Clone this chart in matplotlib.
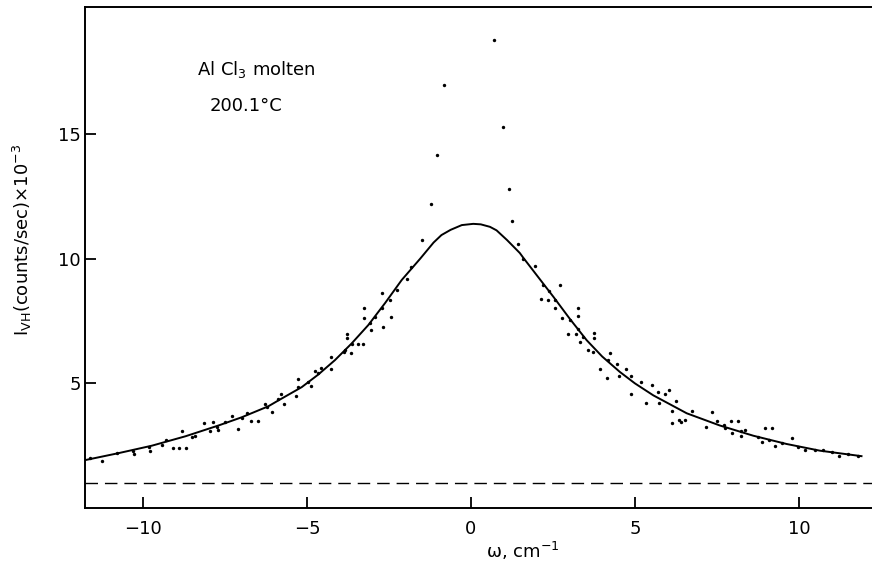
import matplotlib
matplotlib.use("Agg")
import matplotlib.pyplot as plt

# measured points (omega in cm^-1, intensity in counts/sec x 10^-3)
pts_w = [-11.62, -11.24, -10.78, -10.30, -10.27, -9.81, -9.79, -9.30, -9.41, -9.08,
         -8.89, -8.70, -8.82, -8.50, -8.13, -7.88, -7.96, -7.70, -7.50, -7.30,
         -7.09, -6.84, -6.71, -6.48, -6.28, -6.08, -5.79, -5.69, -5.34, -5.27,
         -5.28, -4.88, -4.76, -4.58, -4.27, -4.27, -3.87, -3.66, -3.77, -3.77,
         -3.45, -3.28, -3.25, -3.25, -3.08, -3.05, -2.72, -2.67, -2.44, -2.47,
         -2.27, -1.96, -1.83, -1.48, -1.23, -8.41, -7.75, -6.99, -6.23, -5.88,
         -4.97, -4.66, -3.84, -3.64, -2.93, -2.72,
         -0.81, -1.04, 0.69, 0.97, 1.16,
         1.24, 1.42, 1.60, 1.95, 2.19, 2.39, 2.71, 2.13, 2.36, 2.56,
         2.56, 2.77, 3.02, 3.25, 3.27, 3.25, 2.97, 3.20, 3.32, 3.42,
         3.75, 3.75, 3.58, 3.73, 3.93, 4.14, 4.24, 4.19, 4.44, 4.51,
         4.72, 4.88, 4.88, 5.20, 5.33, 5.51, 5.71, 5.73, 5.91, 6.05,
         6.24, 6.14, 6.14, 6.34, 6.42, 6.52, 6.73, 7.16, 7.34, 7.49,
         7.71, 7.74, 7.93, 8.13, 7.95, 8.22, 8.25, 8.35, 8.76, 8.88,
         8.96, 9.17, 9.09, 9.27, 9.50, 9.78, 9.98, 10.18, 10.49, 10.74,
         11.00, 11.23, 11.50, 11.81]
pts_I = [1.99, 1.87, 2.20, 2.30, 2.16, 2.43, 2.30, 2.73, 2.54, 2.41,
         2.41, 2.41, 3.10, 2.84, 3.41, 3.45, 3.08, 3.13, 3.47, 3.71,
         3.15, 3.80, 3.48, 3.48, 4.18, 3.84, 4.56, 4.18, 4.48, 5.19,
         4.85, 4.88, 5.50, 5.63, 6.04, 5.56, 6.24, 6.22, 6.98, 6.84,
         6.57, 6.57, 8.01, 7.61, 7.41, 7.14, 8.62, 7.27, 7.65, 8.35,
         8.75, 9.18, 9.66, 10.74, 12.20, 2.90, 3.25, 3.60, 4.07, 4.38,
         5.05, 5.42, 6.33, 6.59, 7.67, 8.01,
         16.98, 14.18, 18.76, 15.27, 12.81,
         11.50, 10.59, 10.00, 9.72, 8.95, 8.71, 8.93, 8.37, 8.35, 8.35,
         8.01, 7.63, 7.56, 8.01, 7.71, 7.20, 6.98, 6.98, 6.64, 6.87,
         7.04, 6.83, 6.32, 6.24, 5.59, 5.23, 6.21, 5.95, 5.77, 5.28,
         5.56, 5.28, 4.58, 5.05, 4.21, 4.92, 4.65, 4.21, 4.58, 4.75,
         4.29, 3.88, 3.40, 3.54, 3.47, 3.54, 3.88, 3.25, 3.87, 3.51,
         3.31, 3.20, 3.48, 3.51, 3.00, 2.90, 3.10, 3.13, 2.84, 2.63,
         3.20, 3.20, 2.73, 2.50, 2.61, 2.81, 2.46, 2.33, 2.33, 2.33,
         2.23, 2.10, 2.17, 2.10]

# fitted curve
fit_w = [-11.77, -10.75, -9.73, -8.70, -7.70, -6.99, -6.18, -5.88, -5.16, -4.66,
         -4.15, -3.64, -3.13, -2.62, -2.11, -1.55, -1.14, -0.90, -0.62, -0.28,
         0.07, 0.30, 0.58, 0.78, 1.10, 1.49, 1.59, 2.00, 2.51, 3.02,
         3.53, 4.00, 4.54, 5.00, 5.56, 6.58, 7.59, 8.61, 9.62, 10.64, 11.91]
fit_I = [1.92, 2.20, 2.50, 2.88, 3.31, 3.64, 4.08, 4.31, 4.85, 5.35,
         5.93, 6.60, 7.34, 8.22, 9.15, 10.00, 10.65, 10.95, 11.16, 11.35,
         11.40, 11.38, 11.28, 11.14, 10.75, 10.23, 10.05, 9.35, 8.48, 7.58,
         6.73, 6.08, 5.46, 5.00, 4.52, 3.80, 3.31, 2.90, 2.57, 2.30, 2.08]

baseline_I = 1.0
xticks = [-10, -5, 0, 5, 10]
yticks = [5, 10, 15]

plt.rcParams['font.family'] = ['DejaVu Sans']
fig = plt.figure(figsize=(8.72, 5.71), dpi=100)
ax = fig.add_axes([85/872, 1-508/571, 1-85/872, (508-7)/571])

ax.plot(fit_w, fit_I, color='black', lw=1.4, zorder=3, solid_joinstyle='round')
ax.scatter(pts_w, pts_I, s=6, color='black', zorder=4, linewidths=0)
ax.axhline(baseline_I, color='black', lw=1.0, dashes=(9, 5))

ax.set_xlim(-11.77, 12.23)
ax.set_ylim(0, 20.1)
ax.set_xticks(xticks)
ax.set_xticklabels(['\u221210', '\u22125', '0', '5', '10'])
ax.set_yticks(yticks)
ax.tick_params(direction='in', length=8, width=1.3, labelsize=13)
ax.tick_params(axis='x', pad=9)
ax.tick_params(axis='y', pad=3)
ax.spines['right'].set_visible(False)
for s in ['left', 'top', 'bottom']:
    ax.spines[s].set_linewidth(1.4)

fig.text(523/872, 1-551/571, '\u03c9, cm$^{-1}$', fontsize=13, ha='center', va='center')
fig.text(22/872, 1-240/571, r'I$_{\rm VH}$(counts/sec)$\times$10$^{-3}$', fontsize=13,
         rotation=90, ha='center', va='center')
fig.text(256/872, 1-70/571, r'Al Cl$_3$ molten', fontsize=13, ha='center', va='center')
fig.text(246/872, 1-106/571, '200.1\u00b0C', fontsize=13, ha='center', va='center')

fig.savefig('out.png', dpi=100)
